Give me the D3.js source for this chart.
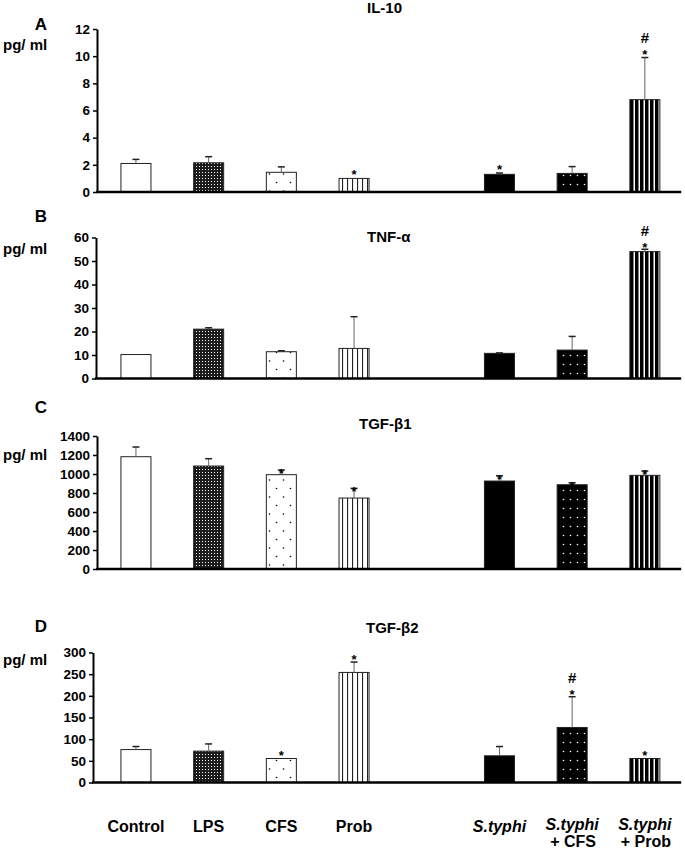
<!DOCTYPE html>
<meta charset="utf-8">
<html>
<head>
  <script src="https://cdnjs.cloudflare.com/ajax/libs/d3/7.8.5/d3.min.js"></script>
  <style>
    body { margin: 0; background: #fff; }
    text { font-family: "Liberation Sans", Arial, sans-serif; font-weight: bold; fill: #000; }
  </style>
</head>
<body>
<div id="chart"></div>
<script>
// groups on the x axis ("gap" is the empty slot between Prob and S.typhi)
var slots = ["Control", "LPS", "CFS", "Prob", "gap", "S.typhi", "S.typhi + CFS", "S.typhi + Prob"];
var groups = ["Control", "LPS", "CFS", "Prob", "S.typhi", "S.typhi + CFS", "S.typhi + Prob"];

var panelLetters = ["A", "B", "C", "D"];
var panelTitles = ["IL-10", "TNF-\u03b1", "TGF-\u03b21", "TGF-\u03b22"];
var yMax = [12, 60, 1400, 300];
var yStep = [2, 10, 200, 50];

// IL-10
var il10Mean = [2.1, 2.15, 1.45, 1.0, 1.3, 1.37, 6.8];
var il10Err = [0.3, 0.45, 0.4, 0, 0.1, 0.5, 3.1];
var il10Marks = ["", "", "", "*", "*", "", "*#"];
// TNF-a
var tnfMean = [10.2, 21.0, 11.4, 12.8, 10.7, 12.1, 54.0];
var tnfErr = [0, 0.6, 0.4, 13.5, 0.2, 5.8, 1.0];
var tnfMarks = ["", "", "", "", "", "", "*#"];
// TGF-b1
var tgfb1Mean = [1182, 1084, 993, 747, 926, 887, 986];
var tgfb1Err = [102, 77, 49, 102, 56, 21, 46];
var tgfb1Marks = ["", "", "*", "*", "*", "*", "*"];
// TGF-b2
var tgfb2Mean = [76, 72.4, 55.4, 254, 61.6, 127, 55.4];
var tgfb2Err = [7, 16.6, 0, 24, 21.4, 71, 0];
var tgfb2Marks = ["", "", "*", "*", "", "*#", "*"];

var means = [il10Mean, tnfMean, tgfb1Mean, tgfb2Mean];
var errs = [il10Err, tnfErr, tgfb1Err, tgfb2Err];
var marks = [il10Marks, tnfMarks, tgfb1Marks, tgfb2Marks];

// layout of each panel (pixels)
var layout = [
  {ax: 97, y0: 192, yTop: 29, letterY: 30, unitY: 50, titleX: 367, titleY: 13, starLift: 6},
  {ax: 96, y0: 378.5, yTop: 237.5, letterY: 222, unitY: 254, titleX: 367, titleY: 242, starLift: 4},
  {ax: 97, y0: 569, yTop: 436, letterY: 413, unitY: 460, titleX: 359, titleY: 429, starLift: -1},
  {ax: 93, y0: 782.5, yTop: 652.5, letterY: 632, unitY: 665, titleX: 366, titleY: 633, starLift: 5}
];

var fills = ["#fff", "url(#dense)", "url(#sparse)", "url(#vlines)", "#000", "url(#blackdots)", "url(#blackstripes)"];

var width = 685, height = 849;

var svg = d3.select("#chart").append("svg")
  .attr("width", width)
  .attr("height", height)
  .style("background-color", "#fff");

// patterns
var defs = svg.append("defs");

var p = defs.append("pattern").attr("id", "dense").attr("patternUnits", "userSpaceOnUse")
  .attr("width", 3).attr("height", 3);
p.append("rect").attr("width", 3).attr("height", 3).attr("fill", "#1c1c1c");
p.append("rect").attr("x", 1).attr("y", 1).attr("width", 1).attr("height", 1).attr("fill", "#fff");

p = defs.append("pattern").attr("id", "sparse").attr("patternUnits", "userSpaceOnUse")
  .attr("width", 14).attr("height", 17);
p.append("rect").attr("width", 14).attr("height", 17).attr("fill", "#fff");
p.append("circle").attr("cx", 3.5).attr("cy", 4).attr("r", 0.8).attr("fill", "#000");
p.append("circle").attr("cx", 10.5).attr("cy", 12.5).attr("r", 0.8).attr("fill", "#000");

p = defs.append("pattern").attr("id", "vlines").attr("patternUnits", "userSpaceOnUse")
  .attr("width", 5).attr("height", 5);
p.append("rect").attr("width", 5).attr("height", 5).attr("fill", "#fff");
p.append("rect").attr("x", 2).attr("width", 1.1).attr("height", 5).attr("fill", "#222");

p = defs.append("pattern").attr("id", "blackdots").attr("patternUnits", "userSpaceOnUse")
  .attr("width", 7).attr("height", 9);
p.append("rect").attr("width", 7).attr("height", 9).attr("fill", "#000");
p.append("circle").attr("cx", 3.5).attr("cy", 4.5).attr("r", 0.8).attr("fill", "#fff");

p = defs.append("pattern").attr("id", "blackstripes").attr("patternUnits", "userSpaceOnUse")
  .attr("width", 5).attr("height", 5);
p.append("rect").attr("width", 5).attr("height", 5).attr("fill", "#000");
p.append("rect").attr("x", 3.5).attr("width", 1.5).attr("height", 5).attr("fill", "#fff");

// shared x scale
var x = d3.scaleBand()
  .domain(slots)
  .range([99.6, 681.2])
  .paddingInner(0.587)
  .paddingOuter(0.2935);

panelLetters.forEach(function(letter, i) {
  var L = layout[i];
  var g = svg.append("g");

  var y = d3.scaleLinear().domain([0, yMax[i]]).range([L.y0, L.yTop]);

  // letter, unit, title
  g.append("text").attr("x", 41).attr("y", L.letterY).attr("text-anchor", "middle")
    .style("font-size", "17px").text(letter);
  g.append("text").attr("x", 3).attr("y", L.unitY).style("font-size", "15px").text("pg/ ml");
  g.append("text").attr("x", L.titleX).attr("y", L.titleY).style("font-size", "15px").text(panelTitles[i]);

  // bars
  var rows = groups.map(function(d, j) {
    return {name: d, mean: means[i][j], err: errs[i][j], mark: marks[i][j], fill: fills[j]};
  });

  g.selectAll("rect.bar")
    .data(rows)
    .enter().append("rect")
    .attr("class", "bar")
    .attr("x", function(d) { return x(d.name); })
    .attr("width", x.bandwidth())
    .attr("y", function(d) { return y(d.mean); })
    .attr("height", function(d) { return y(0) - y(d.mean); })
    .attr("fill", function(d) { return d.fill; })
    .attr("stroke", "#222")
    .attr("stroke-width", 1);

  // error bars (upper only)
  var withErr = rows.filter(function(d) { return d.err > 0; });
  g.selectAll("line.err")
    .data(withErr)
    .enter().append("line")
    .attr("class", "err")
    .attr("x1", function(d) { return x(d.name) + x.bandwidth() / 2; })
    .attr("x2", function(d) { return x(d.name) + x.bandwidth() / 2; })
    .attr("y1", function(d) { return y(d.mean); })
    .attr("y2", function(d) { return y(d.mean + d.err); })
    .attr("stroke", "#666")
    .attr("stroke-width", 1);
  g.selectAll("line.cap")
    .data(withErr)
    .enter().append("line")
    .attr("class", "cap")
    .attr("x1", function(d) { return x(d.name) + x.bandwidth() / 2 - 3.5; })
    .attr("x2", function(d) { return x(d.name) + x.bandwidth() / 2 + 3.5; })
    .attr("y1", function(d) { return y(d.mean + d.err); })
    .attr("y2", function(d) { return y(d.mean + d.err); })
    .attr("stroke", "#222")
    .attr("stroke-width", 1.5);

  // significance marks
  var marked = rows.filter(function(d) { return d.mark !== ""; });
  g.selectAll("text.star")
    .data(marked.filter(function(d) { return d.mark.indexOf("*") >= 0; }))
    .enter().append("text")
    .attr("class", "star")
    .attr("x", function(d) { return x(d.name) + x.bandwidth() / 2; })
    .attr("y", function(d) { return y(d.mean + d.err) - L.starLift + 7; })
    .attr("text-anchor", "middle")
    .style("font-size", "13px")
    .text("*");
  g.selectAll("text.hash")
    .data(marked.filter(function(d) { return d.mark.indexOf("#") >= 0; }))
    .enter().append("text")
    .attr("class", "hash")
    .attr("x", function(d) { return x(d.name) + x.bandwidth() / 2; })
    .attr("y", function(d) { return y(d.mean + d.err) - L.starLift - 9; })
    .attr("text-anchor", "middle")
    .style("font-size", "15px")
    .text("#");

  // y axis
  var yAxis = g.append("g")
    .attr("transform", "translate(" + L.ax + ",0)")
    .call(d3.axisLeft(y)
      .tickValues(d3.range(0, yMax[i] + yStep[i] / 2, yStep[i]))
      .tickFormat(d3.format("d"))
      .tickSize(4)
      .tickSizeOuter(0)
      .tickPadding(3));
  yAxis.select(".domain").attr("stroke", "#000").attr("stroke-width", 2);
  yAxis.selectAll(".tick line").attr("stroke", "#000").attr("stroke-width", 1.5);
  yAxis.selectAll(".tick text")
    .style("font-family", "'Liberation Sans', Arial, sans-serif")
    .style("font-weight", "bold")
    .style("font-size", "13.5px")
    .attr("fill", "#000");

  // x axis line
  g.append("line")
    .attr("x1", L.ax - 1)
    .attr("x2", x.range()[1])
    .attr("y1", y(0))
    .attr("y2", y(0))
    .attr("stroke", "#000")
    .attr("stroke-width", 2.5);
});

// category labels under the last panel
var labels = svg.append("g");
groups.forEach(function(d) {
  var cx = x(d) + x.bandwidth() / 2;
  var t = labels.append("text")
    .attr("x", cx)
    .attr("text-anchor", "middle")
    .style("font-size", "16px");
  if (d.indexOf("S.typhi") === 0) {
    var rest = d.replace("S.typhi", "").trim();
    t.attr("y", rest ? 830 : 832);
    t.append("tspan").style("font-style", "italic").text("S.typhi");
    if (rest) {
      labels.append("text")
        .attr("x", cx + 1)
        .attr("y", 847)
        .attr("text-anchor", "middle")
        .style("font-size", "16px")
        .text(rest);
    }
  } else {
    t.attr("y", 832).text(d);
  }
});
</script>
</body>
</html>
